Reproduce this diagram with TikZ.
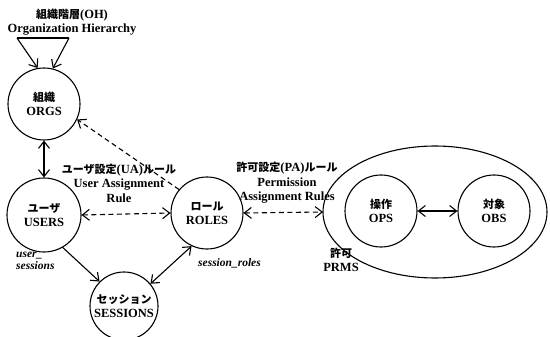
\documentclass[tikz,border=0pt]{standalone}
\usepackage{fontspec}
\setmainfont{Liberation Serif}
\newfontfamily\jpfont{Noto Sans CJK JP}[Scale=0.88]
\newcommand\jtxt[1]{{\jpfont #1}}
\usetikzlibrary{arrows.meta}
\tikzset{
  barb/.tip={Straight Barb[length=7pt,width=11pt,line width=1.1pt]},
  ent/.style={circle, draw, line width=1.1pt, minimum size=72pt, inner sep=0pt,
    align=center, font=\bfseries\fontsize{12.5}{14}\selectfont},
  lbl/.style={align=center, inner sep=0pt, font=\bfseries\fontsize{12.5}{14.5}\selectfont},
  ital/.style={align=left, inner sep=0pt, font=\bfseries\itshape\fontsize{11.5}{12.5}\selectfont},
  sarr/.style={line width=1.1pt, -{barb}},
  dsarr/.style={line width=1.1pt, {barb}-{barb}},
  dashline/.style={line width=1.1pt, dash pattern=on 5pt off 3.5pt},
}
\begin{document}
\begin{tikzpicture}[x=1pt,y=-1pt]
\useasboundingbox (0,0) rectangle (550,337);

% entity circles
\node[ent] (orgs) at (44,104) {\jtxt{組織}\\ORGS};
\node[ent, minimum size=74pt] (users) at (44,215) {\jtxt{ユーザ}\\USERS};
\node[ent] (roles) at (207,213) {\jtxt{ロール}\\ROLES};
\node[ent, minimum size=68pt] (sess) at (124,306) {\jtxt{セッション}\\SESSIONS};

% permissions ellipse with operations and objects
\draw[line width=1.1pt] (435,212) ellipse [x radius=112, y radius=66];
\coordinate (prmsW) at (323,212);
\node[ent, minimum size=72pt] (ops) at (381,211) {\jtxt{操作}\\OPS};
\node[ent, minimum size=72pt] (obs) at (494,211) {\jtxt{対象}\\OBS};
\node[lbl] (prms) at (341,260) {\jtxt{許可}\\PRMS};

% organization hierarchy loop
\node[lbl] (oh) at (72,22) {\jtxt{組織階層}(OH)\\Organization Hierarchy};
\coordinate (ohL) at (17,38);
\coordinate (ohR) at (69,38);
\draw[line width=1.1pt] (ohL) -- (ohR);
\draw[sarr] (ohL) -- (orgs.100);
\draw[sarr] (ohR) -- (orgs.76);

% connectors
\draw[dsarr] (orgs.south) -- (users.north);
\draw[dashline, -{barb}] (roles.140) -- (orgs.-25);
\draw[dashline, {barb}-{barb}] (users.east) -- (roles.west);
\draw[dashline, {barb}-{barb}] (roles.east) -- (prmsW);
\draw[sarr] (users.-60) -- (sess.135);
\draw[dsarr] (roles.-115) -- (sess.40);
\draw[dsarr] (ops.east) -- (obs.west);

% rule labels
\node[lbl] (ua) at (119,183) {\jtxt{ユーザ設定}(UA)\jtxt{ルール}\\User Assignment\\Rule};
\node[lbl] (pa) at (287,183) {\jtxt{許可設定}(PA)\jtxt{ルール}\\Permission\\Assignment Rules};
\node[ital, anchor=west] (us) at (16,261) {user\_\\sessions};
\node[ital, anchor=west] (sr) at (198,263) {session\_roles};
\end{tikzpicture}
\end{document}
